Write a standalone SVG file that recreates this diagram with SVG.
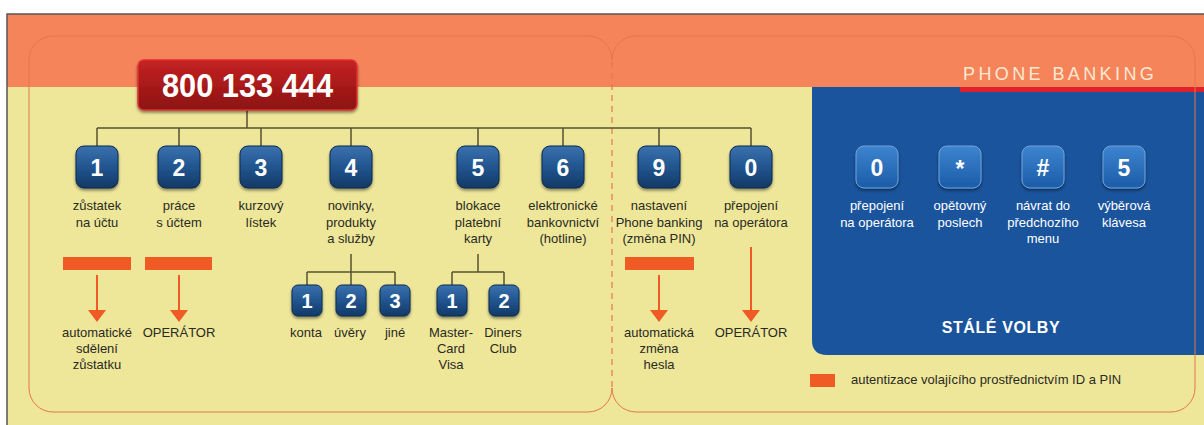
<svg xmlns="http://www.w3.org/2000/svg" width="1204" height="425" viewBox="0 0 1204 425">
<defs>
<linearGradient id="gKey" x1="0" y1="0" x2="0" y2="1">
<stop offset="0" stop-color="#3A72AE"/><stop offset="0.5" stop-color="#22558F"/><stop offset="1" stop-color="#123866"/>
</linearGradient>
<linearGradient id="gKeyL" x1="0" y1="0" x2="0" y2="1">
<stop offset="0" stop-color="#3E84CF"/><stop offset="1" stop-color="#1A5CA8"/>
</linearGradient>
<linearGradient id="gRed" x1="0" y1="0" x2="0" y2="1">
<stop offset="0" stop-color="#C52222"/><stop offset="1" stop-color="#8C1212"/>
</linearGradient>
<filter id="sh" x="-30%" y="-30%" width="160%" height="170%">
<feDropShadow dx="0" dy="2" stdDeviation="1.8" flood-color="#000" flood-opacity="0.45"/>
</filter>
<marker id="arr" markerUnits="userSpaceOnUse" markerWidth="12" markerHeight="18" viewBox="0 0 12 18" refX="0" refY="9" orient="auto">
<path d="M0,0 L12,9 L0,18 Z" fill="#F05A24"/>
</marker>
<style>
.lbl{font-family:"Liberation Sans",Arial,sans-serif;font-size:13px;fill:#2A2A22;text-anchor:middle}
.wl{font-family:"Liberation Sans",Arial,sans-serif;font-size:13px;fill:#FFFFFF;text-anchor:middle}
.dg{font-family:"Liberation Sans",Arial,sans-serif;font-size:23px;font-weight:bold;fill:#FFFFFF;text-anchor:middle}
.dgs{font-family:"Liberation Sans",Arial,sans-serif;font-size:20px;font-weight:bold;fill:#FFFFFF;text-anchor:middle}
.key{fill:url(#gKey);stroke:#0D2A50;stroke-width:1;filter:url(#sh)}
.keyl{fill:url(#gKeyL);stroke:#6FA3DA;stroke-width:1;filter:url(#sh)}
.tree{fill:none;stroke:#5A5232;stroke-width:1.5}
.arrow{fill:none;stroke:#F05A24;stroke-width:2;marker-end:url(#arr)}
.bar{fill:#F05A24}
.frame{fill:none;stroke:#E4774A;stroke-width:1}
</style>
</defs>

<!-- background -->
<rect x="0" y="0" width="1204" height="425" fill="#FFFFFF"/>
<rect x="7" y="14" width="1197" height="411" fill="#EEE79A"/>
<rect x="7" y="14" width="1197" height="73" fill="#F5845A"/>
<path d="M7,425 V14 H1204" fill="none" stroke="#555555" stroke-width="1.5"/>

<!-- blue panel -->
<path d="M812,87 H1204 V355 H827 Q812,355 812,340 Z" fill="#1A549C"/>
<rect x="960" y="87" width="244" height="5" fill="#E0202A"/>
<text x="963" y="80" font-family="Liberation Sans,Arial,sans-serif" font-size="18" letter-spacing="3.4" fill="#FBE9D2">PHONE BANKING</text>

<!-- frames -->
<path class="frame" d="M612,388 A24,24 0 0 1 588,412 H53 A24,24 0 0 1 29,388 V60 A24,24 0 0 1 53,36 H588 A24,24 0 0 1 612,60"/>
<path class="frame" d="M612,60 A24,24 0 0 1 636,36 H1171 A24,24 0 0 1 1195,60 V388 A24,24 0 0 1 1171,412 H636 A24,24 0 0 1 612,388"/>
<line x1="612" y1="62" x2="612" y2="388" stroke="#E4774A" stroke-width="1.2" stroke-dasharray="6,5"/>

<!-- connectors -->
<g id="connectors">
<path class="tree" d="M247,110 V128 M97,128 H751 M97,128 V146 M179,128 V146 M261,128 V146 M351,128 V146 M478,128 V146 M563,128 V146 M659,128 V146 M751,128 V146"/>
<path class="tree" d="M351,254 V272 M307,272 H395 M307,272 V285 M351,272 V285 M395,272 V285"/>
<path class="tree" d="M478,254 V272 M452,272 H504 M452,272 V285 M504,272 V285"/>
<path class="arrow" d="M97,275 V310"/>
<path class="arrow" d="M179,275 V310"/>
<path class="arrow" d="M659,275 V310"/>
<path class="arrow" d="M751,247 V310"/>
</g>

<!-- main number -->
<g id="main-number">
<rect x="138" y="60" width="219" height="50" rx="6" fill="url(#gRed)" stroke="#E03030" stroke-width="1.5" filter="url(#sh)"/>
<text x="247.5" y="97" font-family="Liberation Sans,Arial,sans-serif" font-size="33" font-weight="bold" fill="#FFFFFF" text-anchor="middle" textLength="171" lengthAdjust="spacingAndGlyphs">800 133 444</text>
</g>

<!-- main keys -->
<g id="key-1">
<rect class="key" x="76" y="146" width="42" height="42" rx="8"/>
<text class="dg" x="97" y="175.5">1</text>
<text class="lbl" x="97" y="210">zůstatek</text>
<text class="lbl" x="97" y="227">na účtu</text>
<rect class="bar" x="63" y="257" width="68" height="13"/>
<text class="lbl" x="97" y="337">automatické</text>
<text class="lbl" x="97" y="353">sdělení</text>
<text class="lbl" x="97" y="369">zůstatku</text>
</g>
<g id="key-2">
<rect class="key" x="158" y="146" width="42" height="42" rx="8"/>
<text class="dg" x="179" y="175.5">2</text>
<text class="lbl" x="179" y="210">práce</text>
<text class="lbl" x="179" y="227">s účtem</text>
<rect class="bar" x="145" y="257" width="67" height="13"/>
<text class="lbl" x="179" y="337">OPERÁTOR</text>
</g>
<g id="key-3">
<rect class="key" x="240" y="146" width="42" height="42" rx="8"/>
<text class="dg" x="261" y="175.5">3</text>
<text class="lbl" x="261" y="210">kurzový</text>
<text class="lbl" x="261" y="227">lístek</text>
</g>
<g id="key-4">
<rect class="key" x="330" y="146" width="42" height="42" rx="8"/>
<text class="dg" x="351" y="175.5">4</text>
<text class="lbl" x="351" y="210">novinky,</text>
<text class="lbl" x="351" y="227">produkty</text>
<text class="lbl" x="351" y="243">a služby</text>
</g>
<g id="key-4-1">
<rect class="key" x="292" y="285" width="30" height="31" rx="6"/>
<text class="dgs" x="307" y="308">1</text>
<text class="lbl" x="306" y="337">konta</text>
</g>
<g id="key-4-2">
<rect class="key" x="336" y="285" width="30" height="31" rx="6"/>
<text class="dgs" x="351" y="308">2</text>
<text class="lbl" x="350" y="337">úvěry</text>
</g>
<g id="key-4-3">
<rect class="key" x="380" y="285" width="30" height="31" rx="6"/>
<text class="dgs" x="395" y="308">3</text>
<text class="lbl" x="395" y="337">jiné</text>
</g>
<g id="key-5">
<rect class="key" x="457" y="146" width="42" height="42" rx="8"/>
<text class="dg" x="478" y="175.5">5</text>
<text class="lbl" x="478" y="210">blokace</text>
<text class="lbl" x="478" y="227">platební</text>
<text class="lbl" x="478" y="243">karty</text>
</g>
<g id="key-5-1">
<rect class="key" x="437" y="285" width="30" height="31" rx="6"/>
<text class="dgs" x="452" y="308">1</text>
<text class="lbl" x="451" y="337">Master-</text>
<text class="lbl" x="451" y="353">Card</text>
<text class="lbl" x="451" y="369">Visa</text>
</g>
<g id="key-5-2">
<rect class="key" x="489" y="285" width="30" height="31" rx="6"/>
<text class="dgs" x="504" y="308">2</text>
<text class="lbl" x="503" y="337">Diners</text>
<text class="lbl" x="503" y="353">Club</text>
</g>
<g id="key-6">
<rect class="key" x="542" y="146" width="42" height="42" rx="8"/>
<text class="dg" x="563" y="175.5">6</text>
<text class="lbl" x="563" y="210">elektronické</text>
<text class="lbl" x="563" y="227">bankovnictví</text>
<text class="lbl" x="563" y="243">(hotline)</text>
</g>
<g id="key-9">
<rect class="key" x="638" y="146" width="42" height="42" rx="8"/>
<text class="dg" x="659" y="175.5">9</text>
<text class="lbl" x="659" y="210">nastavení</text>
<text class="lbl" x="659" y="227">Phone banking</text>
<text class="lbl" x="659" y="243">(změna PIN)</text>
<rect class="bar" x="625" y="257" width="69" height="13"/>
<text class="lbl" x="659" y="337">automatická</text>
<text class="lbl" x="659" y="353">změna</text>
<text class="lbl" x="659" y="369">hesla</text>
</g>
<g id="key-0">
<rect class="key" x="730" y="146" width="42" height="42" rx="8"/>
<text class="dg" x="751" y="175.5">0</text>
<text class="lbl" x="751" y="210">přepojení</text>
<text class="lbl" x="751" y="227">na operátora</text>
<text class="lbl" x="751" y="337">OPERÁTOR</text>
</g>

<!-- permanent options -->
<g id="perm-0">
<rect class="keyl" x="856" y="146" width="42" height="42" rx="8"/>
<text class="dg" x="877" y="175.5">0</text>
<text class="wl" x="877" y="210">přepojení</text>
<text class="wl" x="877" y="227">na operátora</text>
</g>
<g id="perm-star">
<rect class="keyl" x="939" y="146" width="42" height="42" rx="8"/>
<text class="dg" x="960" y="177">*</text>
<text class="wl" x="960" y="210">opětovný</text>
<text class="wl" x="960" y="227">poslech</text>
</g>
<g id="perm-hash">
<rect class="keyl" x="1022" y="146" width="42" height="42" rx="8"/>
<text class="dg" x="1043" y="175.5">#</text>
<text class="wl" x="1043" y="210">návrat do</text>
<text class="wl" x="1043" y="227">předchozího</text>
<text class="wl" x="1043" y="243">menu</text>
</g>
<g id="perm-5">
<rect class="keyl" x="1103" y="146" width="42" height="42" rx="8"/>
<text class="dg" x="1124" y="175.5">5</text>
<text class="wl" x="1124" y="210">výběrová</text>
<text class="wl" x="1124" y="227">klávesa</text>
</g>
<text x="1001" y="333" font-family="Liberation Sans,Arial,sans-serif" font-size="16" font-weight="bold" fill="#FFFFFF" text-anchor="middle" letter-spacing="0.6">STÁLÉ VOLBY</text>

<!-- legend -->
<g id="legend">
<rect class="bar" x="810" y="374" width="25" height="13"/>
<text x="851" y="384" font-family="Liberation Sans,Arial,sans-serif" font-size="13" fill="#2A2A22">autentizace volajícího prostřednictvím ID a PIN</text>
</g>
</svg>
